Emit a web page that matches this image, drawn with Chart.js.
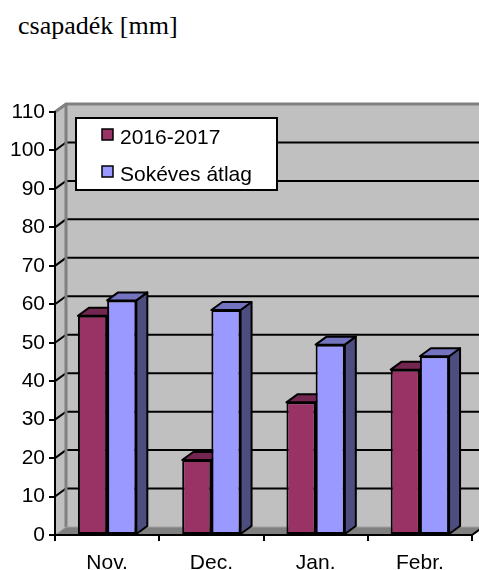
<!DOCTYPE html>
<html>
<head>
<meta charset="utf-8">
<script src="https://cdn.jsdelivr.net/npm/chart.js@4.4.1/dist/chart.umd.min.js"></script>
<style>
  html, body { margin: 0; padding: 0; background: #fff; }
  #wrap { position: relative; width: 479px; height: 570px; }
  #title { position: absolute; left: 18px; top: 13px; font: 26px "Liberation Serif", "Times New Roman", serif; line-height: 1; color: #000; }
  canvas { position: absolute; left: 0; top: 0; }
</style>
</head>
<body>
<div id="wrap">
  <div id="title">csapadék [mm]</div>
  <canvas id="c" width="479" height="570"></canvas>
</div>
<script>
// adatok
const honapok = ['Nov.', 'Dec.', 'Jan.', 'Febr.'];
const ertekek2016 = [57, 19.5, 34.5, 43];
const sokevesAtlag = [61, 58.5, 49.5, 46.5];
const yMin = 0, yMax = 110, yLepes = 10;

// 3D mélység (px)
const DX = 11, DY = 8;

const szinek = [
    { front: '#993366', top: '#732650', side: '#4d1a33' },
    { front: '#9999ff', top: '#7373bf', side: '#4d4d80' }
];

function poly(ctx, pts, fill, stroke, lw) {
    ctx.beginPath();
    ctx.moveTo(pts[0][0], pts[0][1]);
    for (let i = 1; i < pts.length; i++) ctx.lineTo(pts[i][0], pts[i][1]);
    ctx.closePath();
    if (fill) { ctx.fillStyle = fill; ctx.fill(); }
    if (stroke) { ctx.strokeStyle = stroke; ctx.lineWidth = lw || 1; ctx.stroke(); }
}

// fal, padló és rácsvonalak
const fal = {
    id: 'fal',
    beforeDraw(chart) {
        const ctx = chart.ctx, y = chart.scales.y, a = chart.chartArea;
        const L = a.left, R = chart.width + 20;
        const y0 = y.getPixelForValue(yMin), yT = y.getPixelForValue(yMax);
        ctx.save();
        poly(ctx, [[L + DX, yT - DY], [R, yT - DY], [R, y0 - DY], [L + DX, y0 - DY]], '#c0c0c0');
        poly(ctx, [[L, yT], [L + DX, yT - DY], [L + DX, y0 - DY], [L, y0]], '#c0c0c0');
        poly(ctx, [[L, y0], [L + DX, y0 - DY], [a.right + DX, y0 - DY], [a.right, y0]], '#808080');
        ctx.strokeStyle = '#000';
        ctx.lineWidth = 2;
        for (let v = yMin + yLepes; v < yMax; v += yLepes) {
            const py = y.getPixelForValue(v);
            ctx.beginPath();
            ctx.moveTo(L, py);
            ctx.lineTo(L + DX, py - DY);
            ctx.lineTo(R, py - DY);
            ctx.stroke();
        }
        ctx.strokeStyle = '#808080';
        ctx.lineWidth = 3;
        ctx.beginPath();
        ctx.moveTo(L, yT);
        ctx.lineTo(L + DX, yT - DY);
        ctx.lineTo(R, yT - DY);
        ctx.moveTo(L + DX, yT - DY);
        ctx.lineTo(L + DX, y0 - DY);
        ctx.stroke();
        ctx.strokeStyle = '#a0a0a0';
        ctx.lineWidth = 1;
        ctx.beginPath();
        ctx.moveTo(L, y0);
        ctx.lineTo(L + DX, y0 - DY);
        ctx.lineTo(a.right + DX, y0 - DY);
        ctx.stroke();
        ctx.strokeStyle = '#000';
        ctx.lineWidth = 2;
        ctx.beginPath();
        ctx.moveTo(a.right, y0);
        ctx.lineTo(a.right + DX, y0 - DY);
        ctx.stroke();
        ctx.restore();
    }
};

function lapok(chart, index) {
    const ctx = chart.ctx, c = szinek[index];
    ctx.save();
    ctx.lineJoin = 'round';
    chart.getDatasetMeta(index).data.forEach(bar => {
        const p = bar.getProps(['x', 'y', 'base', 'width'], true);
        const l = p.x - p.width / 2, r = p.x + p.width / 2;
        poly(ctx, [[r, p.y], [r + DX, p.y - DY], [r + DX, p.base - DY], [r, p.base]], c.side, '#000', 2);
        poly(ctx, [[l, p.y], [r, p.y], [r + DX, p.y - DY], [l + DX, p.y - DY]], c.top, '#000', 2);
    });
    ctx.restore();
}

// oszlopok teteje és oldala: a hátsó (első) sorozat lapjai a másik elé kerülnek
const oszlop3d = {
    id: 'oszlop3d',
    beforeDatasetsDraw(chart) { lapok(chart, 0); },
    afterDatasetDraw(chart, args) { if (args.index === 1) lapok(chart, 1); }
};

// jelmagyarázat
const jelmagyarazat = {
    id: 'jelmagyarazat',
    afterDraw(chart) {
        const ctx = chart.ctx;
        ctx.save();
        ctx.fillStyle = '#fff';
        ctx.fillRect(76, 118, 201, 72);
        ctx.strokeStyle = '#000';
        ctx.lineWidth = 2;
        ctx.strokeRect(76, 118, 201, 72);
        ctx.font = '21px "Liberation Sans", Arial, sans-serif';
        ctx.textBaseline = 'alphabetic';
        chart.data.datasets.forEach((ds, i) => {
            const sy = 129 + i * 37;
            ctx.fillStyle = ds.backgroundColor;
            ctx.fillRect(102, sy, 11, 11);
            ctx.lineWidth = 1.5;
            ctx.strokeRect(102, sy, 11, 11);
            ctx.fillStyle = '#000';
            ctx.fillText(ds.label, 120, sy + 15);
        });
        ctx.restore();
    }
};

const betu = { family: '"Liberation Sans", Arial, sans-serif', size: 21 };

new Chart(document.getElementById('c'), {
    type: 'bar',
    data: {
        labels: honapok,
        datasets: [
            { label: '2016-2017', data: ertekek2016, backgroundColor: szinek[0].front, borderColor: '#000', borderWidth: 2, borderSkipped: false },
            { label: 'Sokéves átlag', data: sokevesAtlag, backgroundColor: szinek[1].front, borderColor: '#000', borderWidth: 2, borderSkipped: false }
        ]
    },
    options: {
        responsive: false,
        animation: false,
        devicePixelRatio: 1,
        layout: { padding: { top: 112, right: 7, left: 0, bottom: 0 } },
        datasets: { bar: { categoryPercentage: 0.56, barPercentage: 1 } },
        plugins: { legend: { display: false }, tooltip: { enabled: false }, title: { display: false } },
        scales: {
            x: {
                grid: { drawOnChartArea: false, color: '#000', lineWidth: 2, tickLength: 6, offset: true },
                border: { color: '#000', width: 2 },
                ticks: { color: '#000', font: betu, padding: 10, maxRotation: 0 },
                afterFit: s => { s.height = 35; }
            },
            y: {
                min: yMin, max: yMax,
                grid: { drawOnChartArea: false, color: '#000', lineWidth: 2, tickLength: 6 },
                border: { color: '#000', width: 2 },
                ticks: { stepSize: yLepes, color: '#000', font: betu, padding: 4 },
                afterFit: s => { s.width = 55; }
            }
        }
    },
    plugins: [fal, oszlop3d, jelmagyarazat]
});
</script>
</body>
</html>
